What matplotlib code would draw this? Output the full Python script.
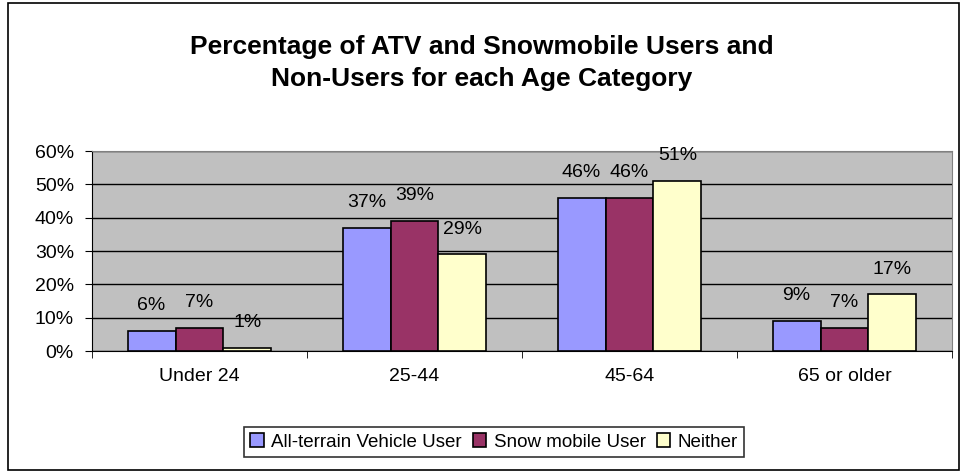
import numpy as np
import matplotlib.pyplot as plt
from matplotlib.patches import Rectangle

# Age categories and percentage of each group
categories = ["Under 24", "25-44", "45-64", "65 or older"]
atv_users = [6, 37, 46, 9]
snowmobile_users = [7, 39, 46, 7]
neither = [1, 29, 51, 17]
series_names = ["All-terrain Vehicle User", "Snow mobile User", "Neither"]
colors = ["#9999FF", "#993366", "#FFFFCC"]

plt.rcParams['font.family'] = ['Liberation Sans', 'DejaVu Sans']

W, H = 963, 472
fig = plt.figure(figsize=(W / 100, H / 100), dpi=100)

# outer border of the chart
fig.patches.append(Rectangle((8 / W, 2 / H), 951 / W, 467 / H, transform=fig.transFigure,
                             fill=False, edgecolor="black", linewidth=1.2))

ax = fig.add_axes([92 / W, 1 - 351 / H, 860 / W, 200 / H])
ax.set_facecolor("#C0C0C0")

x = np.arange(len(categories))
width = 0.223
all_series = [atv_users, snowmobile_users, neither]
for i, (vals, name, col) in enumerate(zip(all_series, series_names, colors)):
    pos = x + (i - 1) * width
    bars = ax.bar(pos, vals, width, color=col, edgecolor="black", linewidth=1.2,
                  label=name, zorder=3)
    for b, v in zip(bars, vals):
        ax.annotate(f"{v}%", (b.get_x() + b.get_width() / 2, v),
                    xytext=(0, 12), textcoords="offset points",
                    ha="center", va="bottom", fontsize=14)

ax.set_xlim(-0.5, len(categories) - 0.5)
ax.set_ylim(0, 60)
ax.set_yticks(range(0, 61, 10))
ax.set_yticklabels([f"{t}%" for t in range(0, 61, 10)], fontsize=14)
ax.yaxis.grid(True, color="black", linewidth=1, zorder=0)
ax.set_axisbelow(True)

ax.set_xticks(x)
ax.set_xticklabels(categories, fontsize=14)
ax.set_xticks(np.arange(-0.5, len(categories), 1), minor=True)
ax.tick_params(axis="x", which="major", length=0, pad=12)
ax.tick_params(axis="x", which="minor", length=5, direction="out")
ax.tick_params(axis="y", length=5, direction="out", pad=8)

for s in ["top", "right"]:
    ax.spines[s].set_color("#808080")
for s in ["left", "bottom"]:
    ax.spines[s].set_color("black")

fig.text(0.5, 1 - 63 / H, "Percentage of ATV and Snowmobile Users and\nNon-Users for each Age Category",
         ha="center", va="center", fontsize=19, fontweight="bold", linespacing=1.45)

leg = fig.legend(loc="center", bbox_to_anchor=(494 / W, 1 - 442 / H), ncol=3,
                 frameon=True, fancybox=False, edgecolor="black", fontsize=13.5,
                 handlelength=0.7, handleheight=0.7, handletextpad=0.4,
                 columnspacing=0.6, borderpad=0.35)
leg.get_frame().set_linewidth(1.2)

fig.savefig("out.png", dpi=100)
